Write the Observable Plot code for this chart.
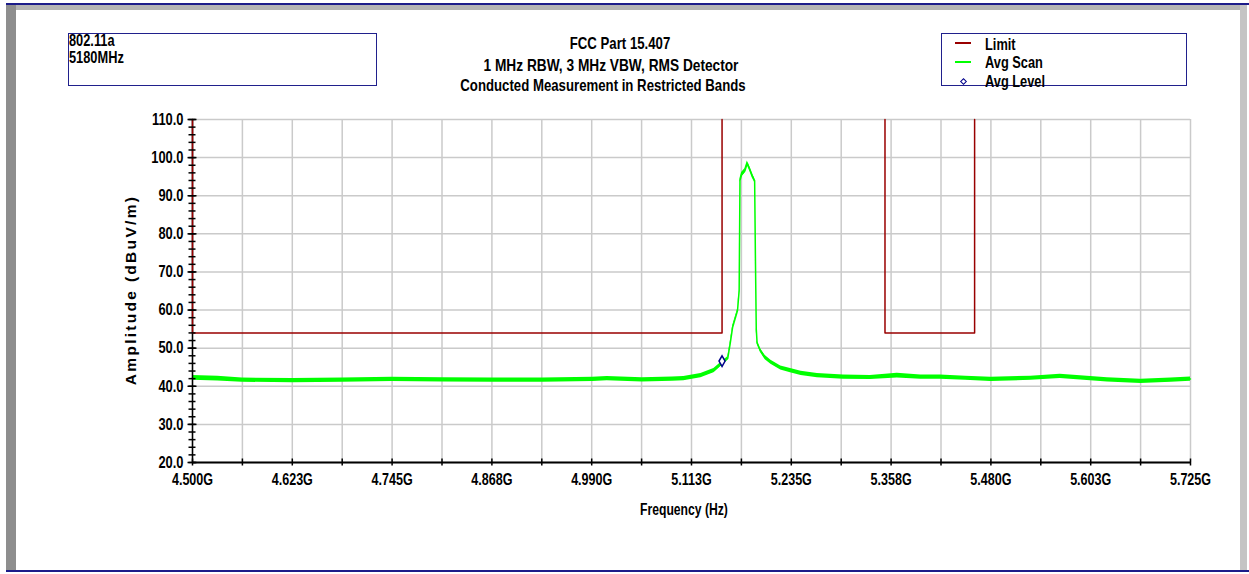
<!DOCTYPE html>
<html><head><meta charset="utf-8">
<script src="https://cdn.jsdelivr.net/npm/d3@7"></script>
<script src="https://cdn.jsdelivr.net/npm/@observablehq/plot@0.6"></script>
<style>
body{margin:0;background:#fff;}
#wrap{position:relative;width:1249px;height:574px;overflow:hidden;background:#fff;font-family:"Liberation Sans",Arial,sans-serif;font-weight:bold;color:#000;}
.abs{position:absolute;}
.t{position:absolute;font-size:16px;line-height:16px;white-space:nowrap;transform:scaleX(0.8);transform-origin:0 50%;}
.c{transform-origin:50% 50%;}
</style></head>
<body><div id="wrap">
<div id="chart" class="abs" style="left:0;top:0"></div>
<!-- frame -->
<div class="abs" style="left:6px;top:3px;width:1243px;height:2px;background:#1c1c8a"></div>
<div class="abs" style="left:6px;top:5px;width:10px;height:566px;background:#8e8e8e"></div>
<div class="abs" style="left:16px;top:5px;width:1224px;height:5px;background:#b4b4b4"></div>
<div class="abs" style="left:1240px;top:5px;width:7px;height:566px;background:#c4c4c4"></div>
<div class="abs" style="left:6px;top:570px;width:1243px;height:2px;background:#1c1c8a"></div>
<!-- info box -->
<div class="abs" style="left:68px;top:33px;width:307px;height:51px;border:1.5px solid #20208c"></div>
<div class="t" style="left:69px;top:32.5px">802.11a</div>
<div class="t" style="left:69px;top:50px">5180MHz</div>
<!-- titles -->
<div class="t c" style="left:420px;width:400px;text-align:center;top:34.5px;font-size:16.5px">FCC Part 15.407</div>
<div class="t c" style="left:411px;width:400px;text-align:center;top:56.5px;font-size:16.5px;transform:scaleX(0.83)">1 MHz RBW, 3 MHz VBW, RMS Detector</div>
<div class="t c" style="left:403px;width:400px;text-align:center;top:76.5px;font-size:16.5px">Conducted Measurement in Restricted Bands</div>
<!-- legend -->
<div class="abs" style="left:941px;top:33px;width:244px;height:51px;border:1.5px solid #20208c"></div>
<div class="abs" style="left:955px;top:42px;width:16px;height:1.6px;background:#990000"></div>
<div class="abs" style="left:955px;top:61px;width:16px;height:1.6px;background:#00ff00"></div>
<div class="abs" style="left:960.5px;top:78.8px;width:3px;height:3px;border:1.5px solid #00008b;background:#fff;transform:rotate(45deg)"></div>
<div class="t" style="left:985px;top:37px">Limit</div>
<div class="t" style="left:985px;top:55px">Avg Scan</div>
<div class="t" style="left:985px;top:73.5px">Avg Level</div>
<!-- axis titles -->
<div class="abs" style="left:31px;top:280px;width:200px;text-align:center;font-size:15.5px;line-height:20px;letter-spacing:2.3px;transform:rotate(-90deg);white-space:nowrap">Amplitude (dBuV/m)</div>
<div class="t c" style="left:584px;width:200px;text-align:center;top:501.5px;transform:scaleX(0.76)">Frequency (Hz)</div>
</div>
<script>
// X axis (GHz)
const xTicks = [4.5, 4.6225, 4.745, 4.8675, 4.99, 5.1125, 5.235, 5.3575, 5.48, 5.6025, 5.725];
const xTickLabels = ["4.500G","4.623G","4.745G","4.868G","4.990G","5.113G","5.235G","5.358G","5.480G","5.603G","5.725G"];
const xGrid = [4.5, 4.56125, 4.6225, 4.68375, 4.745, 4.80625, 4.8675, 4.92875, 4.99, 5.05125, 5.1125, 5.17375, 5.235, 5.29625, 5.3575, 5.41875, 5.48, 5.54125, 5.6025, 5.66375, 5.725];
// Y axis (dBuV/m)
const yTicks = [20, 30, 40, 50, 60, 70, 80, 90, 100, 110];
const yMinor = [20, 22, 24, 26, 28, 30, 32, 34, 36, 38, 40, 42, 44, 46, 48, 50, 52, 54, 56, 58, 60, 62, 64, 66, 68, 70, 72, 74, 76, 78, 80, 82, 84, 86, 88, 90, 92, 94, 96, 98, 100, 102, 104, 106, 108, 110];

// Avg Scan trace: frequency GHz, mid level, noise half-width
const scanFreq = [4.500, 4.531, 4.561, 4.623, 4.684, 4.745, 4.807, 4.868, 4.930, 4.991, 5.009, 5.052, 5.089, 5.103, 5.124, 5.140, 5.150, 5.157, 5.160, 5.163, 5.169, 5.171, 5.172, 5.174, 5.178, 5.181, 5.184, 5.187, 5.190, 5.191, 5.192, 5.193, 5.197, 5.203, 5.210, 5.222, 5.234, 5.247, 5.267, 5.299, 5.332, 5.365, 5.394, 5.418, 5.449, 5.480, 5.529, 5.565, 5.590, 5.623, 5.664, 5.701, 5.725];
const scanLevel = [42.2, 42.0, 41.6, 41.5, 41.6, 41.8, 41.7, 41.6, 41.6, 41.8, 42.0, 41.7, 41.9, 42.0, 42.8, 44.1, 46.0, 47.3, 51.2, 55.5, 59.9, 65.1, 94.0, 95.5, 96.5, 98.5, 97.0, 95.3, 94.0, 73.0, 55.0, 51.5, 49.4, 47.5, 46.3, 44.8, 44.1, 43.4, 42.8, 42.4, 42.3, 42.8, 42.4, 42.4, 42.1, 41.8, 42.1, 42.6, 42.2, 41.7, 41.3, 41.6, 41.9];
const scanSpread = [0.6, 0.6, 0.55, 0.55, 0.55, 0.55, 0.55, 0.55, 0.55, 0.55, 0.55, 0.55, 0.55, 0.55, 0.55, 0.55, 0.5, 0.45, 0.4, 0.35, 0.3, 0.3, 0.5, 0.6, 0.6, 0.6, 0.6, 0.6, 0.5, 0.3, 0.35, 0.45, 0.5, 0.55, 0.55, 0.55, 0.55, 0.55, 0.55, 0.55, 0.55, 0.6, 0.55, 0.55, 0.55, 0.55, 0.55, 0.55, 0.55, 0.55, 0.55, 0.55, 0.55];

// Limit line (restricted bands 4.50-5.15 GHz and 5.35-5.46 GHz at 54 dBuV/m)
const limitFreq = [4.5, 4.5, 5.15, 5.15, 5.35, 5.35, 5.46, 5.46];
const limitLevel = [110, 54, 54, 110, 110, 54, 54, 110];
const limitSeg = [0, 0, 0, 0, 1, 1, 1, 1];

// Avg Level marker
const avgFreq = [5.15];
const avgLevel = [46.6];

const scan = scanFreq.map((f, i) => ({f, mid: scanLevel[i], lo: scanLevel[i] - scanSpread[i], hi: scanLevel[i] + scanSpread[i]}));
const limit = limitFreq.map((f, i) => ({f, v: limitLevel[i], seg: limitSeg[i]}));
const avg = avgFreq.map((f, i) => ({f, v: avgLevel[i]}));

const chart = Plot.plot({
  width: 1249, height: 574,
  marginLeft: 192, marginRight: 59, marginTop: 119, marginBottom: 112,
  x: {domain: [4.5, 5.725]},
  y: {domain: [20, 110]},
  style: {fontFamily: "'Liberation Sans',Arial,sans-serif", fontSize: "16.5px", fontWeight: "bold", color: "#000", background: "transparent", overflow: "visible"},
  marks: [
    Plot.ruleX(xGrid, {stroke: "#cacaca", strokeWidth: 1.5}),
    Plot.ruleY(yTicks, {stroke: "#cacaca", strokeWidth: 1.5}),
    Plot.areaY(scan, {x: "f", y1: "lo", y2: "hi", fill: "#00ff00"}),
    Plot.line(scan, {x: "f", y: "mid", stroke: "#00ff00", strokeWidth: 1.5}),
    Plot.ruleY([20], {stroke: "#000", strokeWidth: 2}),
    Plot.ruleX([4.5], {stroke: "#000", strokeWidth: 1.5}),
    Plot.line(limit, {x: "f", y: "v", z: "seg", stroke: "#990000", strokeWidth: 1.5}),
    Plot.dot(avg, {x: "f", y: "v", symbol: "diamond", r: 3.2, stroke: "#00008b", fill: "white", strokeWidth: 1.5}),
    Plot.axisY({ticks: yTicks, tickSize: 0, tickPadding: 9, tickFormat: d3.format(".1f"), label: null}),
    Plot.axisY({ticks: yMinor, tickSize: 7, dx: 3.5, fill: "none", strokeWidth: 1.5, label: null}),
    Plot.axisY({ticks: yTicks, tickSize: 9, dx: 4.5, fill: "none", strokeWidth: 1.5, label: null}),
    Plot.axisX({ticks: xTicks, tickSize: 0, tickPadding: 11, tickFormat: d => xTickLabels[xTicks.indexOf(d)], label: null}),
    Plot.axisX({ticks: xGrid, tickSize: 7, dy: -3.5, fill: "none", strokeWidth: 1.5, label: null})
  ]
});
document.getElementById("chart").appendChild(chart);
// condense tick label glyphs horizontally (like the narrow original font)
function condense(sel, s) {
  d3.select(chart).selectAll(sel).each(function() {
    const w = this.getComputedTextLength();
    if (w > 0) {
      this.setAttribute("textLength", (w * s).toFixed(2));
      this.setAttribute("lengthAdjust", "spacingAndGlyphs");
    }
  });
}
condense('g[aria-label="y-axis tick label"] text', 0.78);
condense('g[aria-label="x-axis tick label"] text', 0.76);
</script>
</body></html>
